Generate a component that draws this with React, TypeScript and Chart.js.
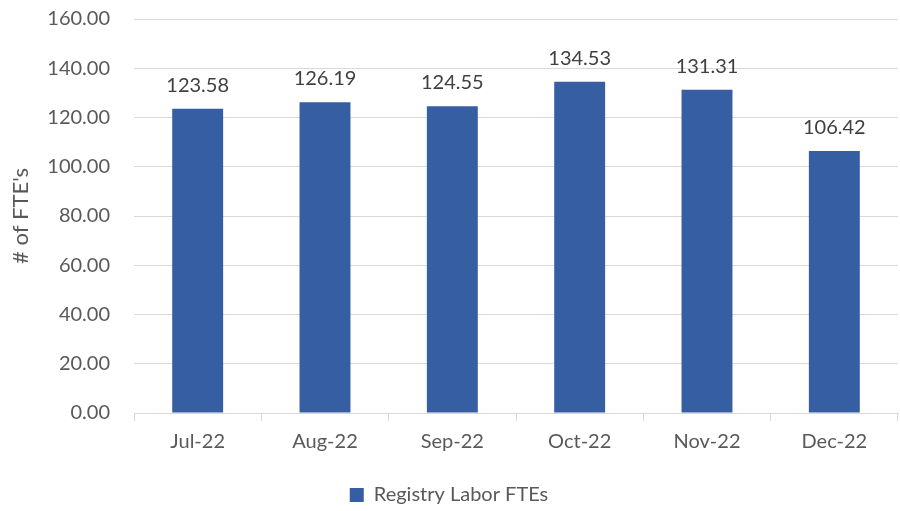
import React, { useEffect, useRef } from "react";
import { Chart, registerables } from "chart.js";

Chart.register(...registerables);

const categories = ["Jul-22", "Aug-22", "Sep-22", "Oct-22", "Nov-22", "Dec-22"];
const fteValues = [123.58, 126.19, 124.55, 134.53, 131.31, 106.42];
const seriesName = "Registry Labor FTEs";
const yTitle = "# of FTE's";

const FONT = "Lato, 'Open Sans', sans-serif";

const dataLabelPlugin = {
  id: "dataLabels",
  afterDatasetsDraw(chart: any) {
    const ctx = chart.ctx;
    const meta = chart.getDatasetMeta(0);
    ctx.save();
    ctx.font = `20px ${FONT}`;
    ctx.fillStyle = "#404040";
    ctx.textAlign = "center";
    ctx.textBaseline = "alphabetic";
    meta.data.forEach((bar: any, i: number) => {
      const v = chart.data.datasets[0].data[i] as number;
      ctx.fillText(v.toFixed(2), bar.x, bar.y - 17);
    });
    ctx.restore();
  },
};

export default function App() {
  const ref = useRef<HTMLCanvasElement>(null);
  useEffect(() => {
    if (!ref.current) return;
    const chart = new Chart(ref.current, {
      type: "bar",
      data: {
        labels: categories,
        datasets: [
          {
            label: seriesName,
            data: fteValues,
            backgroundColor: "#365EA2",
            barPercentage: 0.4,
            categoryPercentage: 1,
          },
        ],
      },
      options: {
        responsive: false,
        animation: false,
        layout: { autoPadding: false, padding: { top: 19, right: 2, left: 0, bottom: -4 } },
        plugins: {
          tooltip: { enabled: false },
          legend: {
            position: "bottom",
            labels: {
              boxWidth: 14,
              boxHeight: 14,
              color: "#595959",
              font: { family: FONT, size: 20 },
              padding: 4,
            },
          },
        },
        scales: {
          x: {
            grid: {
              offset: true,
              drawOnChartArea: false,
              color: "#d9d9d9",
              tickLength: 8,
            },
            border: { color: "#d9d9d9" },
            ticks: {
              color: "#595959",
              font: { family: FONT, size: 20 },
              padding: 9,
              maxRotation: 0,
            },
            afterFit: (s: any) => {
              s.height = 68;
            },
          },
          y: {
            min: 0,
            max: 160,
            grid: { color: "#d9d9d9", drawTicks: false },
            border: { display: false },
            ticks: {
              stepSize: 20,
              color: "#595959",
              font: { family: FONT, size: 20 },
              padding: 24,
              callback: (v: any) => Number(v).toFixed(2),
            },
            title: {
              display: true,
              text: yTitle,
              color: "#595959",
              font: { family: FONT, size: 22 },
              padding: { top: 8, bottom: 0 },
            },
            afterFit: (s: any) => {
              s.width = 134;
              s.paddingTop = 0;
              s.paddingBottom = 0;
            },
          },
        },
      },
      plugins: [dataLabelPlugin],
    });
    return () => chart.destroy();
  }, []);
  return (
    <div style={{ position: "fixed", left: 0, top: 0, width: 900, height: 511, background: "#fff" }}>
      <canvas ref={ref} width={900} height={511} />
    </div>
  );
}
